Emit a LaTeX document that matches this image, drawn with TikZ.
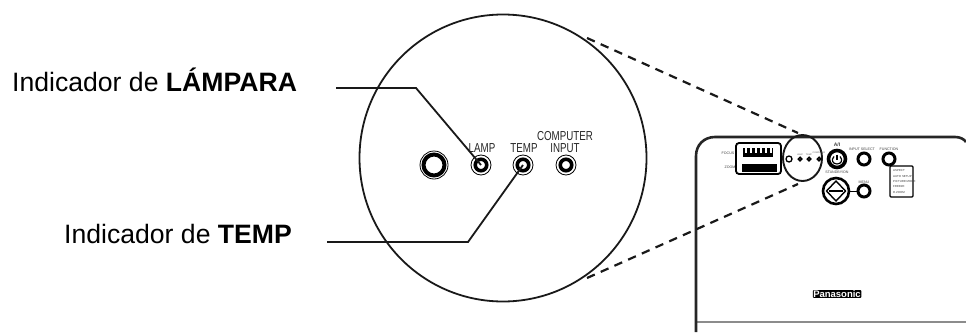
\documentclass[tikz,border=0pt]{standalone}
\usepackage{graphicx}
\usepackage{fontspec}
\setmainfont{Liberation Sans}
\usetikzlibrary{shapes.geometric}
\newcommand{\narrowtxt}[1]{\scalebox{.75}[1]{#1}}
\tikzset{
 bigline/.style={line width=1.8pt,black!90},
 leader/.style={line width=1.8pt,black!90},
 dash line/.style={line width=2.2pt,black!90,dash pattern=on 8.5pt off 6.5pt},
 lbl/.style={font=\fontsize{26.6}{30}\selectfont,anchor=base west,inner sep=0pt,text=black},
 tiny/.style={font=\fontsize{13}{13}\selectfont,inner sep=0pt,text=black!85},
 micro/.style={font=\fontsize{3.6}{4.6}\selectfont,inner sep=0pt,text=black!75},
 nano/.style={font=\fontsize{2.2}{2.6}\selectfont,inner sep=0pt,text=black!65},
}
\begin{document}
\begin{tikzpicture}[x=1pt,y=-1pt]
\useasboundingbox (0,0) rectangle (966,332);
% projector body
\draw[line width=1.3pt,black!45] (696,322) -- (966,322);
\draw[line width=2.6pt,black!85] (696,332) -- (696,156) .. controls (696,145) and (704,137) .. (715,137) -- (955,137) .. controls (960,137) and (964,139) .. (966,142);
% big circle
\node[circle,draw,bigline,minimum size=287pt,inner sep=0pt] (big) at (503,158) {};
% small circle
\node[ellipse,draw,line width=1.9pt,black!90,minimum width=39pt,minimum height=46pt,inner sep=0pt] (small) at (802.5,158) {};
% dashed
\coordinate (t1) at (587,38);
\coordinate (t2) at (798,133);
\coordinate (b1) at (587,278);
\coordinate (b2) at (798,184);
\draw[dash line] (t1) -- (t2);
\draw[dash line] (b1) -- (b2);
% big panel
\node[circle,draw,line width=.8pt,minimum size=28pt,inner sep=0pt] (r0o) at (434,165) {};
\node[circle,draw,line width=4pt,minimum size=21pt,inner sep=0pt] (r0) at (434,165) {};
\foreach \n/\x in {r1/481,r2/523,r3/566}{
 \node[circle,draw,line width=.8pt,minimum size=20pt,inner sep=0pt] (\n o) at (\x,165) {};
 \node[circle,draw,line width=3.6pt,minimum size=11.5pt,inner sep=0pt] (\n) at (\x,165) {};
}
\node[tiny] (tlamp) at (482,148) {\narrowtxt{LAMP}};
\node[tiny] (ttemp) at (524,148) {\narrowtxt{TEMP}};
\node[tiny] (tinput) at (565,148) {\narrowtxt{INPUT}};
\node[tiny] (tcomp) at (565,136) {\narrowtxt{COMPUTER}};
% labels
\node[lbl] (lab1) at (12,91) {Indicador de \textbf{LÁMPARA}};
\node[lbl] (lab2) at (64,243) {Indicador de \textbf{TEMP}};
\coordinate (e1) at (336,88);
\coordinate (k1) at (416,88);
\coordinate (e2) at (327,242);
\coordinate (k2) at (468,242);
\draw[leader] (e1) -- (k1) -- (r1.center);
\draw[leader] (e2) -- (k2) -- (r2.center);
% small panel
\node[circle,draw,line width=1.3pt,minimum size=6pt,inner sep=0pt] (s0) at (789,159) {};
\foreach \n/\x in {s1/800,s2/809,s3/819}{
 \node[circle,draw,line width=1.5pt,minimum size=3.4pt,inner sep=0pt] (\n) at (\x,159) {};
}
\node[nano] (sl1) at (800,154.5) {LAMP};
\node[nano] (sl2) at (809,154.5) {TEMP};
\node[nano] (sl3) at (819,153) {COMPUTER};
% focus/zoom
\node[micro] (foc) at (728,153) {FOCUS};
\node[micro] (zom) at (730,167) {ZOOM};
\node[draw,line width=1.8pt,rounded corners=3pt,minimum width=45pt,minimum height=31pt,inner sep=0pt] (dial) at (758.5,158.5) {};
\node[fill=black,minimum width=30pt,minimum height=9pt,inner sep=0pt] (d1) at (758,152.5) {};
\foreach \x in {746,751,756,761,766,771}{\draw[white,line width=1.4pt] (\x,148) -- (\x,153);}
\node[fill=black,minimum width=35pt,minimum height=8pt,inner sep=0pt] (d2) at (759.5,168) {};
% power
\node[circle,draw,line width=3.6pt,minimum size=17pt,inner sep=0pt] (pw) at (837,159) {};
\draw[line width=1.2pt] (834,156.5) .. controls (830.5,160) and (833,164) .. (837,164) .. controls (841,164) and (843.5,160) .. (840,156.5);
\draw[line width=1.2pt] (837,154.5) -- (837,160);
\node[micro,font=\fontsize{5}{5}\selectfont\bfseries] (pt) at (837,145) {A/I};
\node[micro] (pb) at (837,172) {STANDBY/ON};
% input select etc
\node[circle,draw,line width=3pt,minimum size=12pt,inner sep=0pt] (is) at (864,159) {};
\node[micro] (ist) at (862,149) {INPUT SELECT};
\node[circle,draw,line width=3pt,minimum size=12pt,inner sep=0pt] (fn) at (889,159) {};
\node[micro] (fnt) at (889,149) {FUNCTION};
\node[circle,draw,line width=3pt,minimum size=12pt,inner sep=0pt] (mn) at (864,191) {};
\node[micro] (mnt) at (864,182) {MENU};
\node[circle,draw,line width=2.6pt,minimum size=26pt,inner sep=0pt] (pad) at (836,191) {};
\draw[line width=1.4pt] (836,181) -- (826.5,191) -- (836,201) -- (845.5,191) -- cycle;
\draw[line width=1.2pt] (829,191) -- (843,191);
\draw[line width=1pt] (pad) -- (mn);
% list box
\node[draw,line width=1.3pt,fill=white,rounded corners=1pt,minimum width=23pt,minimum height=31pt,inner sep=0pt] (lst) at (901.5,181.5) {};
\node[micro,font=\fontsize{2.9}{5.4}\selectfont,align=left,anchor=west] (lsttxt) at (893,181.5) {ASPECT\\AUTO SETUP\\PICTURE MODE\\FREEZE\\D.ZOOM};
\node[fill=black,rounded corners=1pt,font=\fontsize{9.5}{10}\selectfont\bfseries,text=white,inner sep=.5pt] (pan) at (837,294) {Panasonic};
\end{tikzpicture}
\end{document}
